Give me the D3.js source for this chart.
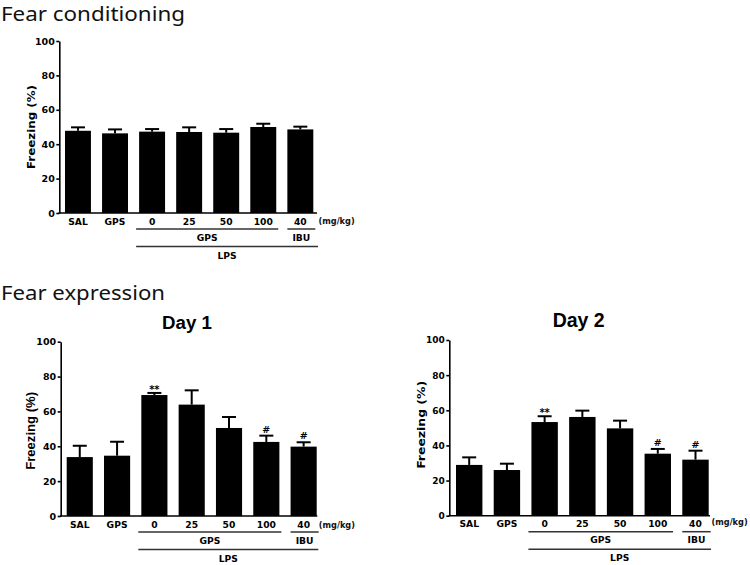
<!DOCTYPE html>
<html><head><meta charset="utf-8">
<script src="https://cdn.jsdelivr.net/npm/d3@7"></script>
<style>
html,body{margin:0;padding:0;background:#fff;}
svg{display:block;}
</style></head>
<body>
<svg id="chart" width="750" height="565"></svg>
<script>
// ---- data ----
const categories = ["SAL", "GPS", "0", "25", "50", "100", "40"];
const condMean = [47.8, 46.3, 47.3, 47.1, 46.7, 50.0, 48.6];
const condSem  = [2.0, 2.3, 1.5, 2.7, 2.1, 1.9, 1.6];
const day1Mean = [33.8, 34.6, 69.4, 63.9, 50.5, 42.5, 39.8];
const day1Sem  = [6.5, 8.0, 1.2, 8.2, 6.3, 3.6, 2.5];
const day2Mean = [28.9, 26.0, 53.3, 56.2, 49.7, 35.3, 31.9];
const day2Sem  = [4.3, 3.6, 3.3, 3.6, 4.4, 2.7, 5.1];
const condMarks = ["", "", "", "", "", "", ""];
const day1Marks = ["", "", "**", "", "", "#", "#"];
const day2Marks = ["", "", "**", "", "", "#", "#"];
const yTicks = [0, 20, 40, 60, 80, 100];
const yTitleText = "Freezing (%)";
const unitLabel = "(mg/kg)";
const groupGPS = "GPS", groupIBU = "IBU", groupLPS = "LPS";
const sectionTitles = ["Fear conditioning", "Fear expression"];
const panelTitles = ["Day 1", "Day 2"];

const svg = d3.select("#chart");
const BOLD = "'DejaVu Sans', Verdana, sans-serif";

// section headings
svg.append("text").attr("x", 1).attr("y", 20.5)
  .attr("font-family", "'Noto Sans', 'Open Sans', sans-serif").attr("font-size", 19)
  .attr("textLength", 184).attr("lengthAdjust", "spacingAndGlyphs")
  .attr("fill", "#111").text(sectionTitles[0]);
svg.append("text").attr("x", 1).attr("y", 300)
  .attr("font-family", "'Noto Sans', 'Open Sans', sans-serif").attr("font-size", 20)
  .attr("textLength", 164).attr("lengthAdjust", "spacingAndGlyphs")
  .attr("fill", "#111").text(sectionTitles[1]);

function drawPanel(cfg) {
  const g = svg.append("g");
  const y = d3.scaleLinear().domain([0, 100]).range([cfg.yBottom, cfg.yTop]);
  const x = d3.scaleBand().domain(categories).range([cfg.barL, cfg.barR])
    .paddingInner(0.3).paddingOuter(0);
  const bw = x.bandwidth();

  // bars
  g.selectAll("rect.bar").data(categories).enter().append("rect")
    .attr("x", d => x(d)).attr("width", bw)
    .attr("y", (d, i) => y(cfg.mean[i]))
    .attr("height", (d, i) => y(0) - y(cfg.mean[i]))
    .attr("fill", "#000");

  // error bars (upper only)
  const eg = g.append("g").attr("stroke", "#000").attr("stroke-width", 2);
  categories.forEach((c, i) => {
    const cx = x(c) + bw / 2;
    const top = y(cfg.mean[i] + cfg.sem[i]);
    eg.append("line").attr("x1", cx).attr("x2", cx)
      .attr("y1", y(cfg.mean[i])).attr("y2", top);
    eg.append("line").attr("x1", cx - 7).attr("x2", cx + 7)
      .attr("y1", top).attr("y2", top);
    if (cfg.marks[i]) {
      const isStar = cfg.marks[i].indexOf("*") >= 0;
      g.append("text").attr("x", cx).attr("y", top - (isStar ? 0 : 3))
        .attr("text-anchor", "middle").attr("font-family", BOLD)
        .attr("font-weight", "bold").attr("font-size", isStar ? 10 : 9.5)
        .text(cfg.marks[i]);
    }
  });

  // y axis
  const ya = g.append("g").attr("transform", `translate(${cfg.axisX},0)`)
    .call(d3.axisLeft(y).tickValues(yTicks).tickSize(3).tickSizeOuter(0).tickPadding(1.5));
  ya.select(".domain").attr("stroke", "#000").attr("stroke-width", 1.6);
  ya.selectAll(".tick line").attr("stroke", "#000").attr("stroke-width", 1.6);
  ya.selectAll(".tick text").attr("font-family", BOLD).attr("font-weight", "bold")
    .attr("font-size", cfg.tickFont).attr("fill", "#000");

  // x axis baseline
  g.append("line").attr("x1", cfg.axisX - 0.8).attr("x2", cfg.axisEnd)
    .attr("y1", y(0)).attr("y2", y(0)).attr("stroke", "#000").attr("stroke-width", 1.6);

  // category labels via axis
  const xa = g.append("g").attr("transform", `translate(0,${y(0)})`)
    .call(d3.axisBottom(x).tickSize(0).tickPadding(5));
  xa.select(".domain").remove();
  xa.selectAll(".tick text").attr("font-family", BOLD).attr("font-weight", "bold")
    .attr("font-size", 9.2).attr("fill", "#000");

  const y0 = y(0);
  // unit label
  g.append("text").attr("x", cfg.axisEnd + 1.5).attr("y", y0 + 12 - cfg.unitRaise)
    .attr("font-family", BOLD).attr("font-weight", "bold").attr("font-size", 8.2)
    .attr("fill", "#111").text(unitLabel);

  // group lines
  const gpsL = x(categories[2]) - 3, gpsR = x(categories[5]) + bw + 2;
  const ibuL = x(categories[6]), ibuR = x(categories[6]) + bw + 2;
  const lpsR = cfg.axisEnd + 1;
  const lg = g.append("g").attr("stroke", "#333").attr("stroke-width", 1.5);
  lg.append("line").attr("x1", gpsL).attr("x2", gpsR).attr("y1", y0 + 16).attr("y2", y0 + 16);
  lg.append("line").attr("x1", ibuL).attr("x2", ibuR).attr("y1", y0 + 16).attr("y2", y0 + 16);
  lg.append("line").attr("x1", gpsL).attr("x2", lpsR).attr("y1", y0 + 33.5).attr("y2", y0 + 33.5);

  const lab = (t, cx, cy) => g.append("text").attr("x", cx).attr("y", cy)
    .attr("text-anchor", "middle").attr("dy", "0.35em")
    .attr("font-family", BOLD).attr("font-weight", "bold").attr("font-size", 9.2)
    .attr("fill", "#000").text(t);
  lab(groupGPS, (gpsL + gpsR) / 2, y0 + 24.5);
  lab(groupIBU, (ibuL + ibuR) / 2, y0 + 24.5);
  lab(groupLPS, (gpsL + lpsR) / 2, y0 + 42.3);

  // y title
  g.append("text")
    .attr("transform", `translate(${cfg.yTitleX},${(cfg.yTop + cfg.yBottom) / 2 + cfg.yTitleShift}) rotate(-90)`)
    .attr("text-anchor", "middle").attr("dy", "0.35em")
    .attr("font-family", cfg.yTitleFont).attr("font-weight", "bold")
    .attr("font-size", cfg.yTitleSize)
    .attr("textLength", cfg.yTitleLen).attr("lengthAdjust", "spacingAndGlyphs")
    .attr("fill", "#000").text(yTitleText);

  if (cfg.title) {
    g.append("text").attr("x", cfg.titleX).attr("y", cfg.titleY)
      .attr("text-anchor", "middle")
      .attr("font-family", "'Liberation Sans', Arial, sans-serif").attr("font-weight", "bold")
      .attr("font-size", cfg.titleSize).attr("fill", "#000").text(cfg.title);
  }
}

drawPanel({
  axisX: 59.3, axisEnd: 317, barL: 65, barR: 313.3, yTop: 41, yBottom: 213,
  mean: condMean, sem: condSem, marks: condMarks, tickFont: 9.5,
  yTitleX: 31, yTitleShift: 0, yTitleFont: BOLD, yTitleSize: 11, yTitleLen: 84,
  unitRaise: 1
});
drawPanel({
  axisX: 60.7, axisEnd: 317.3, barL: 66.7, barR: 316.7, yTop: 341.7, yBottom: 516,
  mean: day1Mean, sem: day1Sem, marks: day1Marks, tickFont: 9.5,
  yTitleX: 31, yTitleShift: 2, yTitleFont: "'Liberation Sans', Arial, sans-serif", yTitleSize: 12.5, yTitleLen: 78,
  unitRaise: 0,
  title: panelTitles[0], titleX: 187, titleY: 328.5, titleSize: 18.7
});
drawPanel({
  axisX: 449.3, axisEnd: 710, barL: 456, barR: 708.7, yTop: 340, yBottom: 515.7,
  mean: day2Mean, sem: day2Sem, marks: day2Marks, tickFont: 9,
  yTitleX: 421, yTitleShift: -3, yTitleFont: BOLD, yTitleSize: 11, yTitleLen: 88,
  unitRaise: 3,
  title: panelTitles[1], titleX: 578.7, titleY: 327, titleSize: 19.5
});
</script>
</body></html>
